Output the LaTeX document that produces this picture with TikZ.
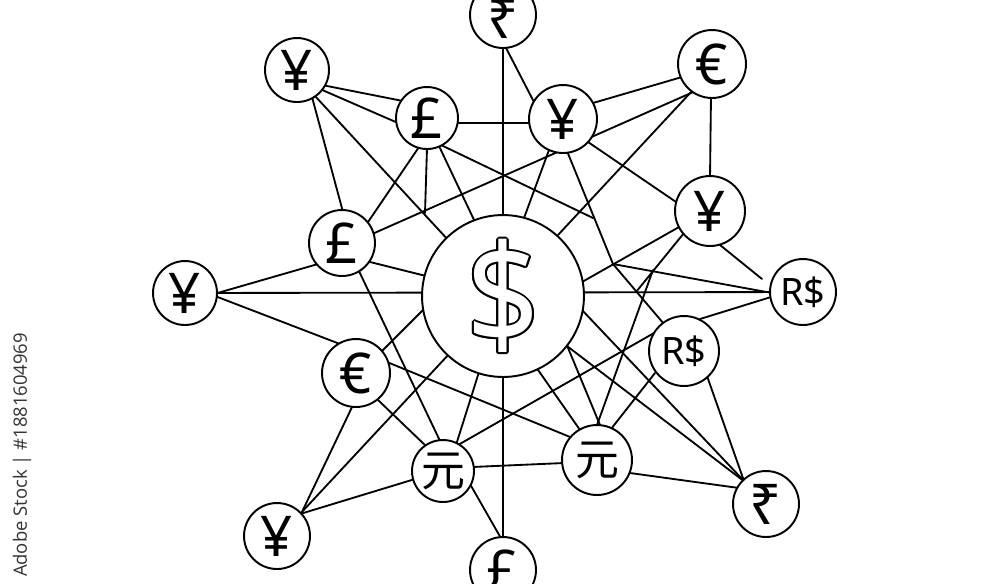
\documentclass[tikz,border=0pt]{standalone}
\usepackage{fontspec}
\newfontfamily\symfont{Noto Sans}
\newfontfamily\cjkfont{Noto Sans CJK SC}
\newfontfamily\wmfont{Open Sans}
\usetikzlibrary{backgrounds}
\begin{document}
\begin{tikzpicture}[x=0.02cm,y=-0.02cm,
  cur/.style={circle,draw,fill=white,line width=1.1pt,inner sep=0pt,minimum size={0.04cm*#1},font=\symfont\fontsize{32}{32}\selectfont},
  sym/.style={inner sep=0pt,font=\symfont\fontsize{31}{31}\selectfont},
  rs/.style={font=\symfont\fontsize{21.5}{21.5}\selectfont},
  yuan/.style={font=\cjkfont\fontsize{25}{25}\selectfont},
  ln/.style={line width=1.05pt,line cap=round},
  dol/.style={font=\symfont\fontsize{79}{79}\selectfont}]
\path[use as bounding box] (0,0) rectangle (1000,583);
% currency nodes
\node[cur=33] (A) at (503,15) {};
\node[sym] (Atxt) at (503,19) {₹};
\node[cur=32] (B) at (297,70) {¥};
\node[cur=34] (C) at (712,64) {€};
\node[cur=31] (D) at (427,118) {£};
\node[cur=34] (E) at (563,119) {¥};
\node[cur=35] (F) at (710,211) {¥};
\node[cur=33] (G) at (342,243) {£};
\node[cur=81] (H) at (503,296) {};
\node[cur=32] (I) at (185,293) {¥};
\node[cur=33,rs] (J) at (803,292) {R\$};
\node[cur=35,rs] (K) at (684,351) {R\$};
\node[cur=34] (L) at (356,373) {€};
\node[cur=31,yuan] (M) at (443,471) {元};
\node[cur=35,yuan] (N) at (597,460) {元};
\node[cur=33] (O) at (277,536) {¥};
\node[cur=33] (P) at (766,504) {₹};
\node[cur=33] (Q) at (503,570) {£};
% outlined dollar
\foreach \a in {0,22.5,...,337.5}
  \node[dol,text=black] at ([shift={(\a:0.95pt)}]H.center) {\scalebox{0.92}[1]{\$}};
\node[dol,text=white] (Hs) at (H.center) {\scalebox{0.92}[1]{\$}};
% watermark text
\node[rotate=90,text=black!80,font=\wmfont\fontsize{10.5}{12}\selectfont] (wm) at (22,455) {Adobe Stock | \#1881604969};
% connectors
\begin{scope}[on background layer]
\fill[white] (0,0) rectangle (1000,583);
\coordinate (X1) at (613,264);
\draw[ln] (A) -- (Q);
\draw[ln] (I) -- (J);
\draw[ln] (345,246) -- (700,89);   % G - C
\draw[ln] (504,44) -- (535,104);   % A - E
\draw[ln] (322,85) -- (403,101);   % B - D
\draw[ln] (320,89) -- (398,123);   % B - D
\draw[ln] (312,97) -- (343,212);   % B - G
\draw[ln] (315,96) -- (450,242);   % B - H
\draw[ln] (419,147) -- (366,225);  % D - G
\draw[ln] (427,148) -- (425,213);  % D down
\draw[ln] (439,146) -- (475,222);  % D - H
\draw[ln] (441,145) -- (593,218);  % D long
\draw[ln] (455,123) -- (531,123);  % D - E
\draw[ln] (370,262) -- (426,276);  % G - H
\draw[ln] (214,294) -- (318,264);  % I - G
\draw[ln] (358,269) -- (441,443);  % G - M
\draw[ln] (593,103) -- (682,77);   % E - C
\draw[ln] (692,91) -- (558,235);   % C - H
\draw[ln] (711,95) -- (710,178);   % C - F
\draw[ln] (549,150) -- (524,218);  % E - H
\draw[ln] (567,151) -- (X1) -- (664,324); % E - X1 - K
\draw[ln] (588,142) -- (679,204);  % E - F
\draw[ln] (679,227) -- (582,282);  % F - H
\draw[ln] (684,233) -- (636,292);  % F lower
\draw[ln] (653,270) -- (597,425);  % to N
\draw[ln] (X1) -- (772,293);       % X1 - J
\draw[ln] (720,245) -- (762,279);  % F - J
\draw[ln] (700,319) -- (771,297);  % K - J
\draw[ln] (655,373) -- (611,429);  % K - N
\draw[ln] (707,376) -- (744,481);  % K - P
\draw[ln] (582,310) -- (745,482);  % H - P
\draw[ln] (567,346) -- (745,482);  % H - P
\draw[ln] (630,473) -- (739,488);  % N - P
\draw[ln] (458,445) -- (654,333);  % M - K
\draw[ln] (387,362) -- (575,439);  % L - N
\draw[ln] (536,367) -- (580,430);  % H - N
\draw[ln] (566,343) -- (600,425);  % H - N
\draw[ln] (472,467) -- (564,463);  % M - N
\draw[ln] (456,445) -- (479,372);  % M - H
\draw[ln] (381,352) -- (425,308);  % L - H
\draw[ln] (215,296) -- (340,344);  % I - L
\draw[ln] (378,400) -- (427,447);  % L - M
\draw[ln] (353,405) -- (301,514);  % L - O
\draw[ln] (300,514) -- (450,353);  % O - H
\draw[ln] (300,514) -- (415,479);  % O - M
\draw[ln] (470,484) -- (502,540);  % M - Q
\end{scope}
\end{tikzpicture}
\end{document}
